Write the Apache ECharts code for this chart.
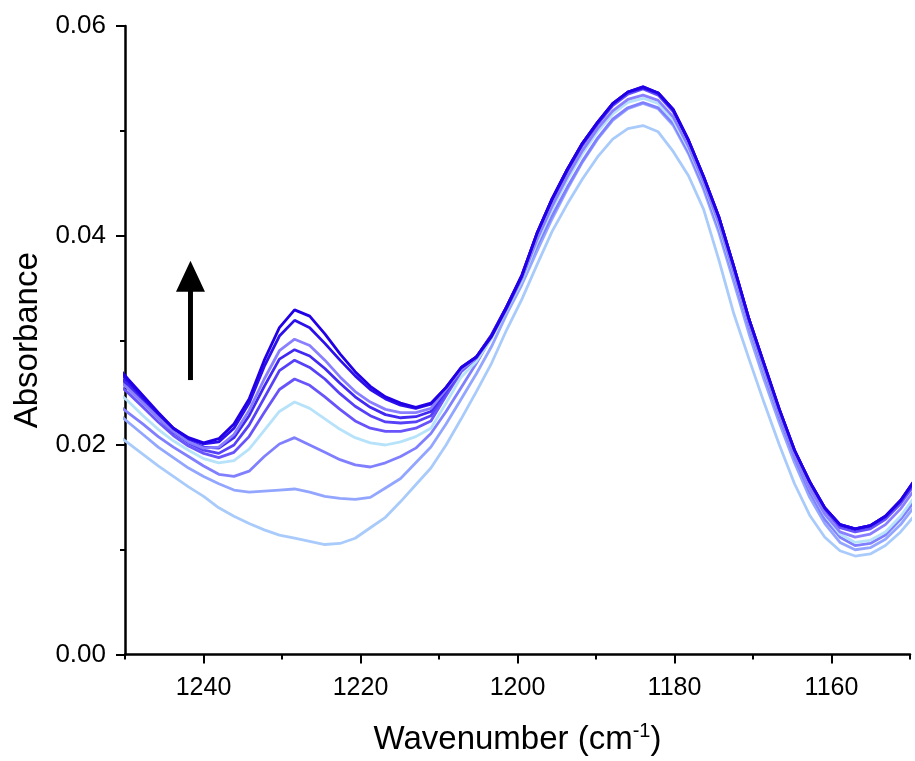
<!DOCTYPE html>
<html>
<head>
<meta charset="utf-8">
<script src="https://cdn.jsdelivr.net/npm/echarts@6/dist/echarts.min.js"></script>
<style>html,body{margin:0;padding:0;background:#fff}#c{width:915px;height:761px}</style>
</head>
<body>
<div id="c"></div>
<script>
// Wavenumber sampling (cm-1)
const wavenumbers = [1251.56,1249.63,1247.70,1245.77,1243.84,1241.91,1239.98,1238.05,1236.12,1234.19,
1232.26,1230.33,1228.40,1226.47,1224.54,1222.61,1220.68,1218.75,1216.82,1214.89,
1212.96,1211.03,1209.10,1207.17,1205.24,1203.31,1201.38,1199.45,1197.52,1195.59,
1193.66,1191.73,1189.80,1187.87,1185.94,1184.01,1182.08,1180.15,1178.22,1176.29,
1174.36,1172.43,1170.50,1168.57,1166.64,1164.71,1162.78,1160.85,1158.92,1156.99,
1155.06,1153.13,1151.20,1149.27];

const s1 = [0.0280,0.0263,0.0247,0.0231,0.0216,0.0207,0.0202,0.0206,0.0220,0.0244,
0.0281,0.0312,0.0329,0.0323,0.0306,0.0287,0.0270,0.0256,0.0246,0.0240,
0.0236,0.0240,0.0255,0.0274,0.0284,0.0304,0.0332,0.0362,0.0402,0.0435,
0.0463,0.0488,0.0508,0.0526,0.0537,0.0542,0.0536,0.0520,0.0491,0.0456,
0.0418,0.0370,0.0320,0.0277,0.0234,0.0195,0.0165,0.0140,0.0124,0.0120,
0.0123,0.0132,0.0147,0.0168];
const s2 = [0.0276,0.0261,0.0245,0.0230,0.0216,0.0206,0.0201,0.0203,0.0216,0.0240,
0.0275,0.0304,0.0319,0.0312,0.0297,0.0281,0.0266,0.0253,0.0244,0.0238,
0.0235,0.0239,0.0255,0.0274,0.0284,0.0304,0.0331,0.0361,0.0402,0.0435,
0.0463,0.0488,0.0508,0.0526,0.0537,0.0541,0.0536,0.0520,0.0491,0.0456,
0.0418,0.0370,0.0320,0.0277,0.0234,0.0195,0.0165,0.0140,0.0124,0.0120,
0.0123,0.0132,0.0147,0.0168];
const s3 = [0.0266,0.0254,0.0240,0.0226,0.0213,0.0203,0.0197,0.0198,0.0210,0.0233,
0.0263,0.0290,0.0301,0.0295,0.0281,0.0265,0.0251,0.0241,0.0234,0.0231,
0.0231,0.0235,0.0253,0.0272,0.0283,0.0303,0.0330,0.0359,0.0396,0.0428,
0.0456,0.0481,0.0502,0.0519,0.0530,0.0534,0.0529,0.0513,0.0485,0.0451,
0.0412,0.0364,0.0315,0.0272,0.0229,0.0190,0.0159,0.0134,0.0117,0.0112,
0.0115,0.0124,0.0139,0.0159];
const s4 = [0.0271,0.0258,0.0243,0.0228,0.0214,0.0204,0.0198,0.0197,0.0207,0.0228,
0.0256,0.0282,0.0291,0.0285,0.0273,0.0259,0.0246,0.0236,0.0229,0.0226,
0.0227,0.0232,0.0252,0.0273,0.0284,0.0305,0.0332,0.0362,0.0402,0.0435,
0.0463,0.0488,0.0508,0.0526,0.0537,0.0542,0.0536,0.0520,0.0491,0.0456,
0.0418,0.0370,0.0320,0.0277,0.0234,0.0195,0.0165,0.0140,0.0124,0.0120,
0.0123,0.0132,0.0147,0.0167];
const s5 = [0.0267,0.0255,0.0240,0.0226,0.0212,0.0202,0.0195,0.0192,0.0200,0.0219,
0.0245,0.0271,0.0281,0.0274,0.0263,0.0249,0.0237,0.0228,0.0222,0.0221,
0.0222,0.0228,0.0250,0.0272,0.0284,0.0305,0.0332,0.0361,0.0401,0.0434,
0.0462,0.0487,0.0507,0.0525,0.0536,0.0541,0.0535,0.0519,0.0490,0.0455,
0.0417,0.0369,0.0319,0.0276,0.0233,0.0194,0.0164,0.0139,0.0123,0.0119,
0.0122,0.0131,0.0146,0.0166];
const s6 = [0.0262,0.0250,0.0236,0.0222,0.0209,0.0199,0.0192,0.0188,0.0193,0.0208,
0.0231,0.0253,0.0263,0.0257,0.0246,0.0234,0.0223,0.0216,0.0213,0.0213,
0.0216,0.0223,0.0247,0.0270,0.0283,0.0304,0.0331,0.0360,0.0400,0.0433,
0.0461,0.0486,0.0506,0.0524,0.0535,0.0540,0.0534,0.0518,0.0489,0.0454,
0.0416,0.0368,0.0318,0.0275,0.0232,0.0193,0.0163,0.0138,0.0121,0.0117,
0.0120,0.0129,0.0144,0.0164];
const s7 = [0.0254,0.0242,0.0228,0.0215,0.0204,0.0195,0.0187,0.0183,0.0185,0.0196,
0.0214,0.0232,0.0241,0.0235,0.0225,0.0215,0.0207,0.0202,0.0200,0.0203,
0.0208,0.0216,0.0240,0.0265,0.0280,0.0302,0.0329,0.0357,0.0393,0.0425,
0.0453,0.0478,0.0499,0.0516,0.0527,0.0531,0.0526,0.0510,0.0483,0.0450,
0.0410,0.0363,0.0315,0.0271,0.0229,0.0191,0.0159,0.0133,0.0115,0.0107,
0.0109,0.0117,0.0132,0.0152];
const s8 = [0.0242,0.0231,0.0220,0.0208,0.0198,0.0189,0.0180,0.0172,0.0170,0.0175,
0.0189,0.0201,0.0207,0.0200,0.0193,0.0186,0.0181,0.0179,0.0183,0.0189,
0.0197,0.0211,0.0232,0.0255,0.0278,0.0303,0.0331,0.0359,0.0390,0.0419,
0.0446,0.0471,0.0493,0.0511,0.0522,0.0527,0.0522,0.0507,0.0480,0.0447,
0.0407,0.0360,0.0312,0.0268,0.0226,0.0188,0.0155,0.0129,0.0112,0.0104,
0.0106,0.0114,0.0129,0.0148];
const s9 = [0.0234,0.0222,0.0210,0.0198,0.0188,0.0178,0.0170,0.0163,0.0157,0.0155,
0.0156,0.0157,0.0158,0.0155,0.0151,0.0149,0.0148,0.0150,0.0159,0.0168,
0.0183,0.0198,0.0220,0.0244,0.0268,0.0294,0.0325,0.0353,0.0385,0.0416,
0.0444,0.0470,0.0492,0.0510,0.0521,0.0526,0.0521,0.0505,0.0478,0.0444,
0.0403,0.0355,0.0306,0.0262,0.0221,0.0183,0.0150,0.0125,0.0107,0.0100,
0.0102,0.0110,0.0124,0.0143];
const s10 = [0.0213,0.0202,0.0191,0.0180,0.0170,0.0160,0.0151,0.0140,0.0132,0.0125,
0.0119,0.0114,0.0111,0.0108,0.0105,0.0106,0.0111,0.0121,0.0131,0.0146,
0.0162,0.0178,0.0200,0.0225,0.0251,0.0278,0.0310,0.0339,0.0372,0.0404,
0.0430,0.0454,0.0475,0.0492,0.0502,0.0505,0.0499,0.0480,0.0457,0.0425,
0.0377,0.0325,0.0282,0.0240,0.0200,0.0163,0.0133,0.0112,0.0099,0.0094,
0.0096,0.0104,0.0117,0.0134];

// drawn bottom-to-top (lightest first)
const seriesValues = [s10, s9, s8, s7, s6, s5, s4, s3, s2, s1];
const seriesColors = ['#a9cbfb','#93a6ff','#8080ff','#b6e2fa','#6854fa','#5641f8','#4129f2','#8a80ff','#2c10ec','#2200e6'];

const xMajorTicks = [1160, 1180, 1200, 1220, 1240];

// arrow (data coordinates)
const ARROW_X = 1241.66, ARROW_TAIL = 0.0262, ARROW_TIP = 0.0376;

const FONT = '"Liberation Sans", Arial, sans-serif';
const chart = echarts.init(document.getElementById('c'), null, {renderer: 'canvas'});

const series = seriesValues.map((vals, i) => ({
  type: 'line',
  xAxisIndex: 0,
  yAxisIndex: 0,
  data: wavenumbers.map((w, k) => [w, vals[k]]),
  showSymbol: false,
  smooth: false,
  clip: true,
  silent: true,
  lineStyle: {color: seriesColors[i], width: 2.8},
  itemStyle: {color: seriesColors[i]},
  animation: false
}));

chart.setOption({
  animation: false,
  backgroundColor: '#fff',
  grid: {left: 125, right: 5, top: 26, bottom: 104, containLabel: false},
  xAxis: [{
    type: 'value', min: 1150, max: 1250, inverse: true, interval: 10, position: 'bottom',
    axisLine: {show: true, onZero: false, lineStyle: {color: '#000', width: 2.5}},
    axisTick: {show: true, length: 5, lineStyle: {color: '#000', width: 2}},
    axisLabel: {show: false},
    splitLine: {show: false},
    name: 'Wavenumber (cm{sup|-1})',
    nameLocation: 'middle', nameGap: 67,
    nameTextStyle: {
      fontFamily: FONT, fontSize: 33, color: '#000',
      rich: {sup: {fontFamily: FONT, fontSize: 20, color: '#000', verticalAlign: 'top', padding: [0, 0, 16, 0]}}
    }
  }, {
    type: 'value', min: 1150, max: 1250, inverse: true, position: 'bottom',
    axisLine: {show: false, onZero: false},
    axisTick: {show: true, length: 9, customValues: xMajorTicks, lineStyle: {color: '#000', width: 2}},
    axisLabel: {show: true, customValues: xMajorTicks, margin: 21, fontFamily: FONT, fontSize: 25, color: '#000',
      formatter: v => String(v)},
    splitLine: {show: false}
  }],
  yAxis: [{
    type: 'value', min: 0, max: 0.06, interval: 0.02,
    axisLine: {show: true, onZero: false, lineStyle: {color: '#000', width: 2.5}},
    axisTick: {show: true, length: 9, lineStyle: {color: '#000', width: 2}},
    minorTick: {show: true, splitNumber: 2, length: 5, lineStyle: {color: '#000', width: 2}},
    axisLabel: {margin: 19, fontFamily: FONT, fontSize: 26, color: '#000', formatter: v => v.toFixed(2)},
    splitLine: {show: false},
    minorSplitLine: {show: false},
    name: 'Absorbance', nameLocation: 'middle', nameGap: 80,
    nameTextStyle: {fontFamily: FONT, fontSize: 33, color: '#000'}
  }],
  series: series
});

const tail = chart.convertToPixel({xAxisIndex: 0, yAxisIndex: 0}, [ARROW_X, ARROW_TAIL]);
const tip = chart.convertToPixel({xAxisIndex: 0, yAxisIndex: 0}, [ARROW_X, ARROW_TIP]);
const headH = 31, headW = 29;
chart.setOption({
  graphic: [
    {type: 'line', shape: {x1: tail[0], y1: tail[1], x2: tip[0], y2: tip[1] + headH - 2},
     style: {stroke: '#000', lineWidth: 5}, silent: true},
    {type: 'polygon', shape: {points: [[tip[0], tip[1]], [tip[0] - headW / 2, tip[1] + headH], [tip[0] + headW / 2, tip[1] + headH]]},
     style: {fill: '#000'}, silent: true}
  ]
});
</script>
</body>
</html>
